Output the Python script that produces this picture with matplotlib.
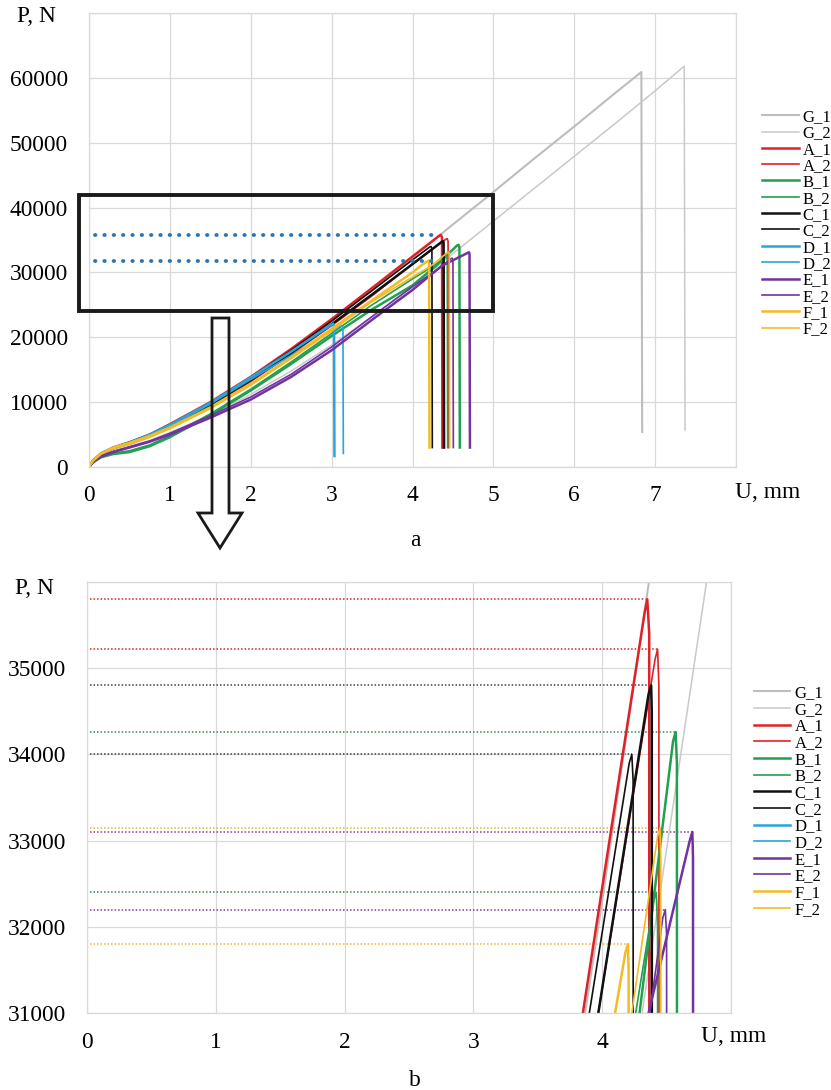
import matplotlib
matplotlib.use('Agg')
import matplotlib.pyplot as plt
import matplotlib.patches as mpatches

plt.rcParams['font.family'] = ['Liberation Serif', 'DejaVu Serif']

# displacement U, mm / load P, N
G_1_u = [0, 0.05, 0.15, 0.3, 0.5, 0.75, 1.0, 1.5, 2.0, 2.5, 3.0, 3.5, 4.0, 4.5, 5.0, 5.5, 6.0, 6.5, 6.83, 6.84]
G_1_p = [0, 900, 1900, 2800, 3500, 4600, 6000, 9300, 13200, 17700, 22500, 27400, 32300, 37400, 42400, 47500, 52500, 57600, 60900, 5400]
G_2_u = [0, 0.05, 0.15, 0.3, 0.5, 0.75, 1.0, 1.5, 2.0, 2.5, 3.0, 3.5, 4.0, 4.31, 4.81, 5.5, 6.0, 6.5, 7.0, 7.36, 7.37]
G_2_p = [0, 800, 1700, 2500, 3200, 4100, 5300, 8000, 11200, 14800, 18800, 23200, 27900, 31000, 36000, 42900, 47900, 52900, 58000, 61800, 5700]
A_1_u = [0, 0.05, 0.15, 0.3, 0.5, 0.75, 1.0, 1.5, 2.0, 2.5, 3.0, 3.5, 3.85, 4.33, 4.35, 4.365, 4.37]
A_1_p = [0, 1000, 2100, 3000, 3800, 5000, 6600, 10000, 13900, 18200, 22800, 27600, 31000, 35650, 35800, 35400, 3000]
A_2_u = [0, 0.05, 0.15, 0.3, 0.5, 0.75, 1.0, 1.5, 2.0, 2.5, 3.0, 3.5, 3.97, 4.41, 4.43, 4.44, 4.445]
A_2_p = [0, 900, 2000, 2900, 3600, 4800, 6200, 9500, 13200, 17400, 21800, 26400, 31000, 35100, 35220, 34800, 3000]
B_1_u = [0, 0.05, 0.15, 0.3, 0.5, 0.75, 1.0, 1.5, 2.0, 2.5, 3.0, 3.5, 4.0, 4.29, 4.55, 4.57, 4.58, 4.585]
B_1_p = [0, 800, 1500, 2000, 2300, 3200, 4600, 8000, 11800, 15900, 20200, 24300, 28000, 31000, 34150, 34260, 33900, 3000]
B_2_u = [0, 0.05, 0.15, 0.3, 0.5, 0.75, 1.0, 1.5, 2.0, 2.5, 3.0, 3.5, 4.0, 4.26, 4.40, 4.42, 4.43, 4.435]
B_2_p = [0, 800, 1600, 2100, 2500, 3400, 4800, 8200, 12000, 16200, 20600, 25000, 29000, 31000, 32300, 32400, 32000, 3000]
C_1_u = [0, 0.05, 0.15, 0.3, 0.5, 0.75, 1.0, 1.5, 2.0, 2.5, 3.0, 3.5, 3.97, 4.36, 4.38, 4.385, 4.39]
C_1_p = [0, 900, 2000, 2900, 3700, 4900, 6300, 9600, 13400, 17600, 22000, 26600, 31000, 34700, 34800, 34500, 3000]
C_2_u = [0, 0.05, 0.15, 0.3, 0.5, 0.75, 1.0, 1.5, 2.0, 2.5, 3.0, 3.5, 3.90, 4.21, 4.23, 4.24, 4.245]
C_2_p = [0, 1000, 2100, 3000, 3800, 5000, 6500, 9900, 13800, 18000, 22500, 27200, 31000, 33900, 34000, 33700, 3000]
D_1_u = [0, 0.05, 0.15, 0.3, 0.5, 0.75, 1.0, 1.5, 2.0, 2.5, 2.98, 3.02, 3.03, 3.035]
D_1_p = [0, 1000, 2100, 3000, 3800, 5000, 6500, 9900, 13800, 17800, 21800, 22100, 21800, 1700]
D_2_u = [0, 0.05, 0.15, 0.3, 0.5, 0.75, 1.0, 1.5, 2.0, 2.5, 3.0, 3.10, 3.13, 3.14, 3.145]
D_2_p = [0, 900, 2000, 2900, 3700, 4900, 6300, 9700, 13500, 17200, 21000, 21700, 21800, 21500, 2100]
E_1_u = [0, 0.05, 0.15, 0.3, 0.5, 0.75, 1.0, 1.5, 2.0, 2.5, 3.0, 3.5, 4.0, 4.36, 4.68, 4.70, 4.705, 4.71]
E_1_p = [0, 700, 1600, 2300, 3000, 3900, 5000, 7600, 10400, 13900, 18000, 22700, 27300, 31000, 33000, 33100, 32800, 3000]
E_2_u = [0, 0.05, 0.15, 0.3, 0.5, 0.75, 1.0, 1.5, 2.0, 2.5, 3.0, 3.5, 4.0, 4.37, 4.47, 4.49, 4.50, 4.505]
E_2_p = [0, 800, 1700, 2400, 3100, 4000, 5200, 7900, 10800, 14300, 18500, 23200, 27800, 31000, 32100, 32200, 31900, 3000]
F_1_u = [0, 0.05, 0.15, 0.3, 0.5, 0.75, 1.0, 1.5, 2.0, 2.5, 3.0, 3.5, 4.0, 4.10, 4.18, 4.20, 4.205, 4.21]
F_1_p = [0, 1000, 2100, 3000, 3700, 4800, 6100, 9200, 12800, 16900, 21300, 25700, 30000, 31000, 31700, 31800, 31500, 3000]
F_2_u = [0, 0.05, 0.15, 0.3, 0.5, 0.75, 1.0, 1.5, 2.0, 2.5, 3.0, 3.5, 4.0, 4.23, 4.43, 4.45, 4.455, 4.46]
F_2_p = [0, 900, 2000, 2800, 3500, 4600, 5900, 9000, 12600, 16700, 21000, 25500, 29300, 31000, 33050, 33150, 32800, 3000]

labels = ['G_1', 'G_2', 'A_1', 'A_2', 'B_1', 'B_2', 'C_1', 'C_2', 'D_1', 'D_2', 'E_1', 'E_2', 'F_1', 'F_2']
curves_u = [G_1_u, G_2_u, A_1_u, A_2_u, B_1_u, B_2_u, C_1_u, C_2_u, D_1_u, D_2_u, E_1_u, E_2_u, F_1_u, F_2_u]
curves_p = [G_1_p, G_2_p, A_1_p, A_2_p, B_1_p, B_2_p, C_1_p, C_2_p, D_1_p, D_2_p, E_1_p, E_2_p, F_1_p, F_2_p]
colors = ['#BDBDBD', '#C9C9C9', '#E02228', '#E02228', '#22A050', '#22A050', '#111111', '#111111',
          '#26A6DC', '#26A6DC', '#7232A0', '#7232A0', '#F2BC26', '#F2BC26']
widths = [1.5, 1.1, 1.8, 1.2, 1.8, 1.2, 1.8, 1.2, 1.8, 1.2, 1.8, 1.2, 1.8, 1.2]
dot_colors = ['#BDBDBD', '#BDBDBD', '#D0262C', '#D0262C', '#2E8B57', '#2E8B57', '#404040', '#404040',
              '#26A6DC', '#26A6DC', '#7A3FA5', '#7A3FA5', '#E8B830', '#E8B830']

# the specimens whose peaks are marked in the zoomed view
zoom_marked = ['A_1', 'A_2', 'B_1', 'B_2', 'C_1', 'C_2', 'E_1', 'E_2', 'F_1', 'F_2']

W, H = 831, 1090
fig = plt.figure(figsize=(W / 100, H / 100), dpi=100)

grid_c = '#D9D9D9'
tick_fs = 16.8


def style_axes(ax, xmax, ymin, ymax, ystep, xpad, ypad):
    ax.set_xlim(0, xmax)
    ax.set_ylim(ymin, ymax)
    ax.set_xticks(range(0, xmax + 1))
    ax.set_xticklabels([str(i) for i in range(0, xmax)] + [''])
    yt = list(range(ymin, ymax + 1, ystep))
    ax.set_yticks(yt)
    ax.set_yticklabels([str(v) for v in yt[:-1]] + [''])
    ax.grid(True, color=grid_c, lw=0.9)
    ax.set_axisbelow(True)
    for s in ax.spines.values():
        s.set_color(grid_c)
        s.set_linewidth(0.9)
    ax.tick_params(length=0, labelsize=tick_fs)
    ax.tick_params(axis='x', pad=xpad)
    ax.tick_params(axis='y', pad=ypad)


# ---- a: full curves ----
ax1 = fig.add_axes([89 / W, 1 - 467 / H, (736 - 89) / W, (467 - 13) / H])
for lab, u, p, c, lw in zip(labels, curves_u, curves_p, colors, widths):
    ax1.plot(u, p, color=c, lw=lw, label=lab)
style_axes(ax1, 8, 0, 70000, 10000, 13, 15)

# dotted limits: highest and lowest peak of the marked specimens
peaks = [max(p) for lab, p in zip(labels, curves_p) if lab in zoom_marked]
for lvl in [max(peaks), min(peaks)]:
    ax1.plot([0.07, 4.30], [lvl, lvl], color='#2E75B6', lw=2.8,
             linestyle=(0, (0.1, 2.3)), dash_capstyle='round')

# frame of the zoomed region
ax1.add_patch(mpatches.Rectangle((-0.12, 24000), 5.12, 18000, fill=False,
                                 edgecolor='#1A1A1A', lw=2.8, clip_on=False, zorder=5))

ax1.legend(loc='upper left', bbox_to_anchor=(762 / W, 1 - 109 / H), bbox_transform=fig.transFigure,
           frameon=False, fontsize=12, labelspacing=0.02, handlelength=2.2, handletextpad=0.25,
           borderpad=0, borderaxespad=0)
fig.text(17 / W, 1 - 17 / H, 'P, N', fontsize=tick_fs, va='center', ha='left')
fig.text(768 / W, 1 - 493 / H, 'U, mm', fontsize=tick_fs, va='center', ha='center')
fig.text(415 / W, 1 - 540 / H, 'a', fontsize=tick_fs, va='center', ha='center')

# hollow arrow from frame down to the zoomed plot
arrow_px = [(212, 318), (229, 318), (229, 513), (242, 513), (220, 548), (198, 513), (212, 513)]
arrow = mpatches.Polygon([(x / W, 1 - y / H) for x, y in arrow_px], closed=True, fill=False,
                         edgecolor='#1A1A1A', lw=2.0, transform=fig.transFigure, zorder=6)
fig.add_artist(arrow)

# ---- b: zoomed peaks ----
ax2 = fig.add_axes([87 / W, 1 - 1013 / H, (731 - 87) / W, (1013 - 582) / H])
for lab, u, p, c, lw in zip(labels, curves_u, curves_p, colors, widths):
    ax2.plot(u, p, color=c, lw=lw, label=lab)
for lab, u, p, dc in zip(labels, curves_u, curves_p, dot_colors):
    if lab in zoom_marked:
        i = p.index(max(p))
        ax2.plot([0.02, u[i]], [p[i], p[i]], color=dc, lw=1.1, linestyle=(0, (1, 1.3)), zorder=1.5)
style_axes(ax2, 5, 31000, 36000, 1000, 14, 15)

ax2.legend(loc='upper left', bbox_to_anchor=(754 / W, 1 - 685 / H), bbox_transform=fig.transFigure,
           frameon=False, fontsize=12, labelspacing=0.04, handlelength=2.15, handletextpad=0.3,
           borderpad=0, borderaxespad=0)
fig.text(15 / W, 1 - 588 / H, 'P, N', fontsize=tick_fs, va='center', ha='left')
fig.text(734 / W, 1 - 1037 / H, 'U, mm', fontsize=tick_fs, va='center', ha='center')
fig.text(415 / W, 1 - 1080 / H, 'b', fontsize=tick_fs, va='center', ha='center')

fig.savefig('out.png', dpi=100)
